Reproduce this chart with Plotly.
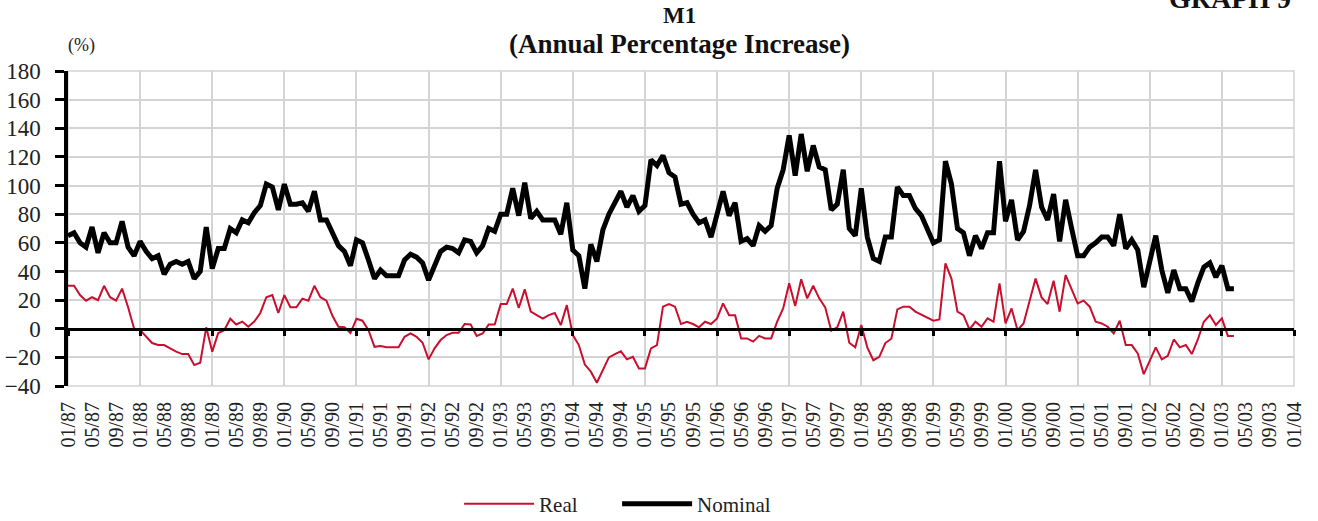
import plotly.graph_objects as go

# ---- data (monthly, 01/1987 .. 03/2003) ----
START_YEAR = 1987
NOMINAL = [65, 67, 60, 57, 71, 53, 67, 60, 60, 75, 57, 51,
           61, 54, 49, 51, 38, 45, 47, 45, 47, 35, 40, 71,
           42, 56, 56, 70, 67, 76, 74, 81, 86, 101, 99, 83,
           101, 87, 87, 88, 82, 96, 76, 76, 67, 58, 54, 44,
           62, 60, 48, 35, 41, 37, 37, 37, 48, 52, 50, 46,
           34, 44, 54, 57, 56, 53, 62, 61, 53, 58, 70, 68,
           80, 80, 98, 79, 102, 77, 82, 76, 76, 76, 66, 88,
           55, 51, 28, 59, 47, 69, 80, 88, 96, 85, 93, 82,
           86, 118, 114, 121, 109, 106, 87, 88, 80, 74, 76, 64,
           80, 96, 79, 88, 61, 63, 58, 72, 68, 72, 98, 111,
           135, 107, 136, 110, 128, 113, 111, 83, 87, 111, 70, 65,
           98, 64, 49, 47, 64, 64, 99, 93, 93, 84, 79, 70,
           60, 62, 117, 101, 70, 67, 51, 65, 56, 67, 67, 117,
           75, 90, 62, 68, 86, 111, 85, 76, 94, 61, 90, 70,
           51, 51, 57, 60, 64, 64, 58, 80, 56, 62, 55, 29,
           48, 65, 41, 25, 41, 28, 28, 19, 32, 43, 46, 36,
           44, 28, 28]
REAL = [30, 30, 23.5, 19.6, 22, 20, 30, 22, 19.6, 28, 15, 0,
        -1, -5.6, -10, -11.4, -11.4, -13.7, -16, -17.7, -17.7, -25.4, -23.7, 1,
        -16, -3, -1, 7, 3, 5, 1.4, 5, 11, 22, 23.5, 11,
        23.5, 15, 15, 21, 19.6, 30, 22, 19.6, 9, 1.4, 1, -3,
        7, 5.6, -1, -12.6, -12, -13, -13, -13, -5.6, -3.3, -5.6, -9.8,
        -21.4, -13.7, -7.9, -4.4, -2.8, -2.8, 3.3, 3, -5.1, -3.3, 3, 3,
        17.2, 17.2, 28, 14.5, 27.5, 12, 9.5, 7, 9.5, 11, 2.5, 16.5,
        -4.4, -11.4, -25, -30, -37.7, -28.4, -20, -17.7, -15.8, -21.4, -19.6, -27.7,
        -27.7, -13.7, -11.4, 15.4, 17.2, 15.4, 3.3, 4.9, 3.3, 1, 4.9, 3.3,
        7.2, 17.7, 9.5, 9.5, -6.8, -6.8, -9, -5, -6.8, -6.8, 4.9, 14.2,
        31.7, 15.8, 34.5, 21.2, 30, 21.2, 14.9, -1.4, 1, 11.9, -9.8, -13,
        2.6, -13, -22, -19.6, -10, -7, 13.5, 15.4, 15.4, 12, 10, 8,
        5.6, 6.5, 45.6, 35, 12, 9.5, -0.5, 4.9, 1.4, 7.2, 4.9, 31.7,
        3.7, 14.2, -1, 3.7, 20, 35, 21.9, 17.2, 33.5, 11.9, 37.5, 27,
        17.7, 19.6, 15.4, 4.9, 3.7, 1.4, -3.3, 5.6, -11.4, -11.4, -17.2, -31.7,
        -21.9, -13, -21.4, -19, -7.5, -13, -11.4, -17.7, -7.5, 4.9, 9.5, 2.6,
        7.2, -5, -5]

MONTH_INDEX = list(range(len(NOMINAL)))          # 0 = 01/87
TICK_MONTHS = [1, 5, 9]
TICK_LABELS = []
for y in range(START_YEAR, 2004):
    for m in TICK_MONTHS:
        TICK_LABELS.append(f"{m:02d}/{y % 100:02d}")
TICK_LABELS.append("01/04")
TICK_POS = [4 * k for k in range(len(TICK_LABELS))]
X_END = TICK_POS[-1]

Y_TICKS = list(range(-40, 181, 20))

SERIF = "Liberation Serif"
RED = "#C8102E"
GRID = "#D4D4D4"

fig = go.Figure()
fig.add_trace(go.Scatter(x=MONTH_INDEX, y=REAL, name="Real", mode="lines",
                         line=dict(color=RED, width=2), xaxis="x2"))
fig.add_trace(go.Scatter(x=MONTH_INDEX, y=NOMINAL, name="Nominal", mode="lines",
                         line=dict(color="black", width=5)))

fig.update_layout(
    width=1318, height=521,
    margin=dict(l=68, r=24, t=71, b=135, autoexpand=False),
    paper_bgcolor="white", plot_bgcolor="white",
    font=dict(family=SERIF, color="black"),
    showlegend=True,
    legend=dict(orientation="h", x=0.319, xanchor="left", y=-0.375, yanchor="middle",
                font=dict(family=SERIF, size=21, color="#222"), itemwidth=70,
                entrywidth=73, traceorder="normal", bgcolor="rgba(0,0,0,0)"),
    xaxis=dict(range=[0, X_END], tickmode="array", tickvals=TICK_POS, ticktext=TICK_LABELS,
               tickangle=-90, showgrid=False, zeroline=False, showline=False, ticks="",
               automargin=False,
               tickfont=dict(family=SERIF, size=20, color="#222"), ticklabelstandoff=11),
    xaxis2=dict(range=[0, X_END], overlaying="x", anchor="free", position=40 / 220,
                tick0=0, dtick=12, showticklabels=False, showgrid=True,
                gridcolor=GRID, gridwidth=1.5, zeroline=False, automargin=False,
                showline=True, linecolor="black", linewidth=2.5,
                ticks="outside", ticklen=6, tickwidth=2.5, tickcolor="black"),
    yaxis=dict(range=[-40, 180], tickvals=Y_TICKS, showgrid=True, gridcolor=GRID,
               gridwidth=1.5, zeroline=False, showline=True, linecolor="black",
               linewidth=3.5, ticks="outside", ticklen=9, tickwidth=3, tickcolor="black",
               automargin=False,
               tickfont=dict(family=SERIF, size=23, color="#222"), ticklabelstandoff=10),
    shapes=[dict(type="rect", xref="paper", yref="paper", x0=0, x1=1, y0=0, y1=1,
                 line=dict(color=GRID, width=1.5), layer="below")],
    annotations=[
        dict(text="<b>M1</b>", xref="paper", yref="paper", x=0.4984, y=1.175,
             xanchor="center", yanchor="middle", showarrow=False,
             font=dict(family=SERIF, size=23, color="#111")),
        dict(text="<b>(Annual Percentage Increase)</b>", xref="paper", yref="paper",
             x=0.4988, y=1.085, xanchor="center", yanchor="middle", showarrow=False,
             font=dict(family=SERIF, size=27, color="#111")),
        dict(text="(%)", xref="paper", yref="paper", x=-0.002, y=1.0825,
             xanchor="left", yanchor="middle", showarrow=False,
             font=dict(family=SERIF, size=18, color="#222")),
        dict(text="<b>GRAPH 9</b>", xref="paper", yref="paper", x=0.9992, y=1.175,
             xanchor="right", yanchor="bottom", showarrow=False,
             font=dict(family=SERIF, size=28, color="#111")),
    ],
)

fig.write_html("out.html", config={"displayModeBar": False},
               post_script="document.body.style.margin='0px';")
